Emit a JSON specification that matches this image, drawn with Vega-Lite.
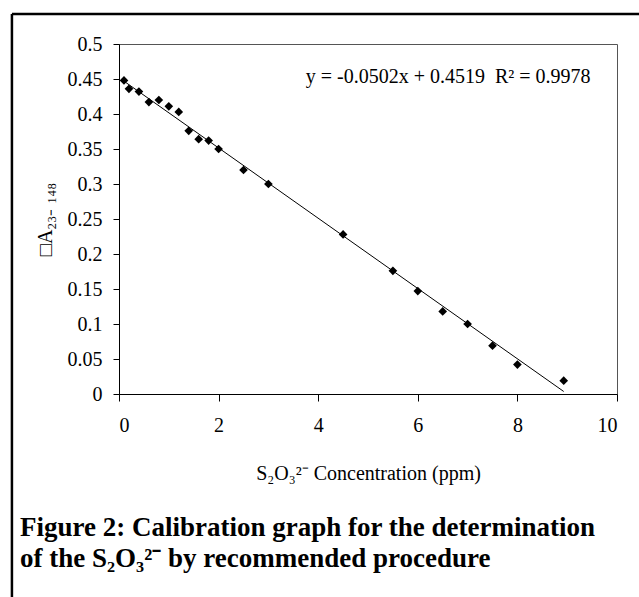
{
  "$schema": "https://vega.github.io/schema/vega-lite/v6.json",
  "width": 498,
  "height": 350,
  "autosize": {"type": "none"},
  "padding": {"left": 119, "top": 44, "right": 22, "bottom": 203},
  "background": "white",
  "config": {
    "view": {"stroke": "#555555", "strokeWidth": 1},
    "font": "Liberation Serif",
    "axis": {
      "labelFont": "Liberation Serif",
      "titleFont": "Liberation Serif",
      "labelFontSize": 20,
      "titleFontSize": 20,
      "titleFontWeight": "normal",
      "labelColor": "black",
      "titleColor": "black",
      "domainColor": "black",
      "tickColor": "black",
      "grid": false,
      "tickSize": 6,
      "labelOverlap": false
    }
  },
  "title": {
    "text": ["Figure 2: Calibration graph for the determination", "of the S₂O₃²⁻ by recommended procedure"],
    "orient": "bottom",
    "anchor": "start",
    "frame": "group",
    "font": "Liberation Serif",
    "fontSize": 27,
    "fontWeight": "bold",
    "color": "black",
    "lineHeight": 31,
    "dx": -99,
    "offset": -83
  },
  "datasets": {
    "points": [
      {"conc": 0.1, "abs": 0.448},
      {"conc": 0.2, "abs": 0.436},
      {"conc": 0.4, "abs": 0.432},
      {"conc": 0.6, "abs": 0.417},
      {"conc": 0.8, "abs": 0.42},
      {"conc": 1.0, "abs": 0.411},
      {"conc": 1.2, "abs": 0.403},
      {"conc": 1.4, "abs": 0.376},
      {"conc": 1.6, "abs": 0.364},
      {"conc": 1.8, "abs": 0.362},
      {"conc": 2.0, "abs": 0.35},
      {"conc": 2.5, "abs": 0.32},
      {"conc": 3.0, "abs": 0.3},
      {"conc": 4.5, "abs": 0.228},
      {"conc": 5.5, "abs": 0.176},
      {"conc": 6.0, "abs": 0.147},
      {"conc": 6.5, "abs": 0.118},
      {"conc": 7.0, "abs": 0.1},
      {"conc": 7.5, "abs": 0.069},
      {"conc": 8.0, "abs": 0.042},
      {"conc": 8.93, "abs": 0.019}
    ],
    "trend": [
      {"conc": 0.05, "abs": 0.4494},
      {"conc": 8.93, "abs": 0.0036}
    ],
    "label": [
      {"conc": 9.47, "abs": 0.444, "text": "y = -0.0502x + 0.4519\u00a0\u00a0R² = 0.9978"}
    ]
  },
  "layer": [
    {
      "data": {"name": "trend"},
      "mark": {"type": "line", "color": "black", "strokeWidth": 1},
      "encoding": {
        "x": {
          "field": "conc", "type": "quantitative",
          "scale": {"domain": [0, 10], "nice": false, "zero": false},
          "axis": {"tickCount": 5, "title": "S₂O₃²⁻ Concentration (ppm)", "labelPadding": 14, "titlePadding": 28, "tickSize": 7, "labelOverlap": false}
        },
        "y": {
          "field": "abs", "type": "quantitative",
          "scale": {"domain": [0, 0.5], "nice": false, "zero": false},
          "axis": {"tickCount": 10, "format": ".2~f", "labelOverlap": false, "labelBound": false, "title": "□A₂₃₋ ₁₄₈", "labelPadding": 11, "titlePadding": 12}
        }
      }
    },
    {
      "data": {"name": "points"},
      "mark": {"type": "point", "shape": "diamond", "filled": true, "color": "black", "size": 75, "opacity": 1},
      "encoding": {
        "x": {"field": "conc", "type": "quantitative"},
        "y": {"field": "abs", "type": "quantitative"}
      }
    },
    {
      "data": {"name": "label"},
      "mark": {"type": "text", "align": "right", "baseline": "alphabetic", "font": "Liberation Serif", "fontSize": 20, "color": "black"},
      "encoding": {
        "x": {"field": "conc", "type": "quantitative"},
        "y": {"field": "abs", "type": "quantitative"},
        "text": {"field": "text"}
      }
    },
    {
      "data": {"values": [{}]},
      "mark": {"type": "rule", "color": "black", "strokeWidth": 2.5, "clip": false},
      "encoding": {
        "x": {"datum": -2.15},
        "x2": {"datum": 10.6},
        "y": {"datum": 0.543}
      }
    },
    {
      "data": {"values": [{}]},
      "mark": {"type": "rule", "color": "black", "strokeWidth": 2.5, "clip": false},
      "encoding": {
        "x": {"datum": -2.15},
        "y": {"datum": 0.543},
        "y2": {"datum": -0.29}
      }
    }
  ]
}
